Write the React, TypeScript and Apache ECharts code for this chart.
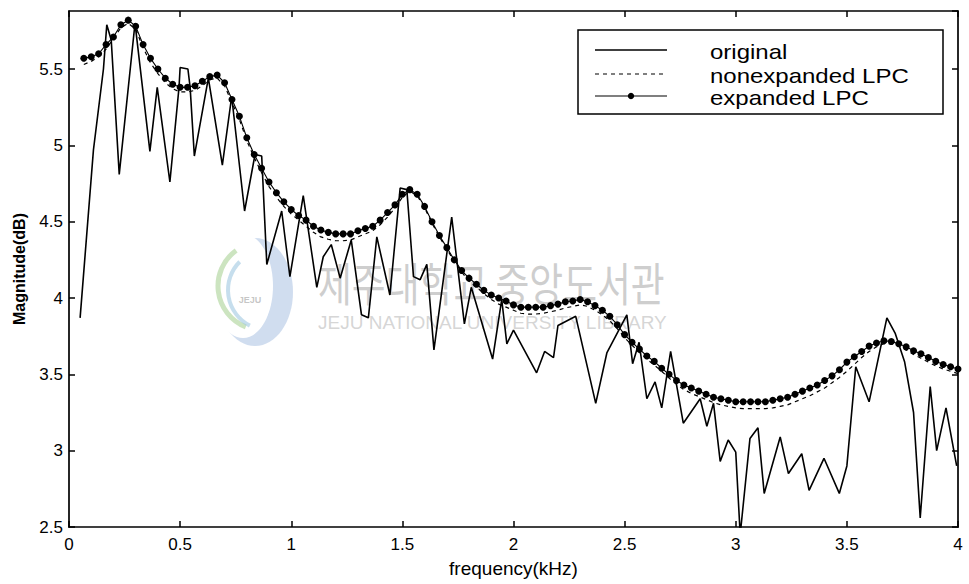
import React, { useEffect, useRef } from "react";
import * as echarts from "echarts";

// Measured spectrum (jagged polyline), frequency in kHz / magnitude in dB
const ORIGINAL_FREQ = [
  0.05, 0.11, 0.155, 0.17, 0.19, 0.226, 0.297, 0.364, 0.397, 0.454, 0.495, 0.5, 0.535, 0.545,
  0.564, 0.627, 0.69, 0.732, 0.79, 0.837, 0.867, 0.89, 0.957, 0.994, 1.054, 1.115, 1.144, 1.18,
  1.22, 1.27, 1.316, 1.347, 1.385, 1.444, 1.49, 1.52, 1.55, 1.58, 1.61, 1.642, 1.722, 1.779,
  1.81, 1.906, 1.947, 1.97, 2.0, 2.104, 2.14, 2.18, 2.2, 2.28, 2.37, 2.42, 2.51, 2.536, 2.565,
  2.6, 2.637, 2.667, 2.707, 2.764, 2.84, 2.87, 2.9, 2.93, 2.966, 3.0, 3.02, 3.064, 3.1, 3.128,
  3.2, 3.237, 3.297, 3.33, 3.397, 3.466, 3.5, 3.54, 3.6, 3.68, 3.717, 3.76, 3.8, 3.83, 3.875,
  3.904, 3.946, 3.994,
];
const ORIGINAL_MAG = [
  3.87, 4.97, 5.5, 5.79, 5.69, 4.81, 5.8, 4.96, 5.38, 4.76, 5.38, 5.51, 5.5, 5.38,
  4.93, 5.44, 4.87, 5.32, 4.57, 4.94, 4.93, 4.22, 4.57, 4.14, 4.67, 4.07, 4.27, 4.35,
  4.13, 4.38, 3.89, 3.87, 4.4, 4.02, 4.72, 4.71, 4.14, 4.12, 4.22, 3.66, 4.53, 3.83,
  4.07, 3.6, 3.99, 3.7, 3.79, 3.51, 3.65, 3.61, 3.82, 3.88, 3.31, 3.64, 3.89, 3.57, 3.71,
  3.34, 3.45, 3.28, 3.65, 3.18, 3.34, 3.16, 3.31, 2.93, 3.07, 2.99, 2.45, 3.08, 3.15, 2.72,
  3.09, 2.85, 2.98, 2.74, 2.95, 2.72, 2.9, 3.55, 3.32, 3.87, 3.77, 3.58, 3.25, 2.56, 3.42,
  3.0, 3.28, 2.9,
];

// LPC envelopes are sampled on a uniform bin grid starting at bin 2
const LPC_FIRST_BIN = 2;
const LPC_BIN_WIDTH_KHZ = 1 / 30;

const EXPANDED_LPC = [
  5.57, 5.58, 5.6, 5.66, 5.71, 5.79, 5.82, 5.78, 5.66, 5.57,
  5.5, 5.44, 5.4, 5.38, 5.38, 5.39, 5.42, 5.45, 5.46, 5.41,
  5.3, 5.19, 5.05, 4.94, 4.85, 4.76, 4.69, 4.63, 4.58, 4.54,
  4.51, 4.47, 4.445, 4.43, 4.42, 4.42, 4.42, 4.44, 4.455, 4.47,
  4.51, 4.56, 4.61, 4.68, 4.71, 4.68, 4.6, 4.5, 4.41, 4.33,
  4.25, 4.18, 4.13, 4.09, 4.05, 4.02, 4.0, 3.98, 3.955, 3.94,
  3.94, 3.94, 3.94, 3.95, 3.96, 3.975, 3.98, 3.99, 3.975, 3.95,
  3.92, 3.88, 3.825, 3.76, 3.71, 3.665, 3.62, 3.585, 3.54, 3.5,
  3.46, 3.43, 3.41, 3.39, 3.37, 3.35, 3.34, 3.33, 3.32, 3.32,
  3.32, 3.32, 3.32, 3.33, 3.34, 3.35, 3.37, 3.39, 3.41, 3.43,
  3.46, 3.49, 3.53, 3.58, 3.615, 3.65, 3.685, 3.705, 3.72, 3.715,
  3.7, 3.68, 3.655, 3.635, 3.61, 3.585, 3.565, 3.55, 3.535,
];

const NONEXPANDED_LPC = [
  5.53, 5.55, 5.58, 5.63, 5.7, 5.77, 5.8, 5.76, 5.64, 5.54,
  5.47, 5.41, 5.37, 5.35, 5.35, 5.36, 5.39, 5.43, 5.44, 5.39,
  5.28, 5.17, 5.03, 4.92, 4.82, 4.73, 4.66, 4.6, 4.55, 4.51,
  4.47, 4.43, 4.4, 4.385, 4.375, 4.375, 4.38, 4.4, 4.42, 4.44,
  4.48, 4.53, 4.59, 4.66, 4.7, 4.67, 4.59, 4.49, 4.4, 4.32,
  4.24, 4.17, 4.11, 4.07, 4.03, 3.99, 3.96, 3.94, 3.92, 3.9,
  3.895, 3.895, 3.9, 3.91, 3.92, 3.935, 3.945, 3.955, 3.945, 3.92,
  3.89, 3.85, 3.8, 3.74, 3.69, 3.645, 3.6, 3.56, 3.52, 3.475,
  3.435, 3.4, 3.375, 3.355, 3.335, 3.315, 3.3, 3.29, 3.28, 3.275,
  3.275, 3.275, 3.275, 3.28, 3.29, 3.3, 3.32, 3.34, 3.36, 3.385,
  3.41, 3.445, 3.48, 3.52, 3.565, 3.61, 3.65, 3.68, 3.7, 3.7,
  3.685, 3.66, 3.63, 3.605, 3.58, 3.555, 3.535, 3.52, 3.505,
];

const LEGEND_LABELS = ["original", "nonexpanded LPC", "expanded LPC"];

const FONT = '"Liberation Sans", Arial, Helvetica, sans-serif';

function lpcPairs(values: number[]) {
  return values.map((v, i) => [(LPC_FIRST_BIN + i) * LPC_BIN_WIDTH_KHZ, v]);
}

export default function App() {
  const ref = useRef<HTMLDivElement>(null);

  useEffect(() => {
    if (!ref.current) return;
    const chart = echarts.init(ref.current, null, { renderer: "svg" });

    const axisLine = { show: true, onZero: false, lineStyle: { color: "#000", width: 1.7 } };
    const axisTick = { show: true, inside: true, length: 6, lineStyle: { color: "#000", width: 1.5 } };
    const tickLabel = { color: "#000", fontSize: 17, fontFamily: FONT };

    const xBase = { type: "value", min: 0, max: 4, interval: 0.5, splitLine: { show: false }, axisLine, axisTick };
    const yBase = { type: "value", min: 2.5, max: 5.88, interval: 0.5, splitLine: { show: false }, axisLine, axisTick };

    const legendX = 578;
    const legendY = 30;
    const rowY = [50, 74, 96];
    const sampleX0 = 595;
    const sampleX1 = 667;
    const textX = 710;

    const legendGraphics: any[] = [
      {
        type: "rect",
        z: 20,
        shape: { x: legendX, y: legendY, width: 365, height: 84 },
        style: { fill: "#fff", stroke: "#000", lineWidth: 1.5 },
      },
      {
        type: "line",
        z: 21,
        shape: { x1: sampleX0, y1: rowY[0], x2: sampleX1, y2: rowY[0] },
        style: { stroke: "#000", lineWidth: 1.4 },
      },
      {
        type: "line",
        z: 21,
        shape: { x1: sampleX0, y1: rowY[1], x2: sampleX1 - 4, y2: rowY[1] },
        style: { stroke: "#000", lineWidth: 1.2, lineDash: [4, 4] },
      },
      {
        type: "line",
        z: 21,
        shape: { x1: sampleX0, y1: rowY[2], x2: sampleX1, y2: rowY[2] },
        style: { stroke: "#000", lineWidth: 1.1 },
      },
      {
        type: "circle",
        z: 22,
        shape: { cx: (sampleX0 + sampleX1) / 2, cy: rowY[2], r: 3.2 },
        style: { fill: "#000" },
      },
      ...LEGEND_LABELS.map((label, i) => ({
        type: "text",
        z: 22,
        x: textX,
        y: rowY[i] + 2,
        scaleX: 1.2,
        style: {
          text: label,
          fill: "#000",
          font: `20px ${FONT}`,
          verticalAlign: "middle",
          align: "left",
        },
      })),
    ];

    // faint library stamp behind the curves
    const stampGraphics: any[] = [
      {
        type: "ellipse",
        z: -5,
        shape: { cx: 255, cy: 292, rx: 38, ry: 54 },
        style: { fill: "rgba(150,180,220,0.45)" },
      },
      {
        type: "ellipse",
        z: -4,
        shape: { cx: 243, cy: 286, rx: 30, ry: 52 },
        style: { fill: "#fff" },
      },
      {
        type: "arc",
        z: -3,
        shape: { cx: 262, cy: 286, r: 44, startAngle: Math.PI * 0.62, endAngle: Math.PI * 1.3 },
        style: { stroke: "rgba(170,210,150,0.6)", lineWidth: 5, fill: "none" },
      },
      {
        type: "arc",
        z: -3,
        shape: { cx: 268, cy: 290, r: 40, startAngle: Math.PI * 0.65, endAngle: Math.PI * 1.25 },
        style: { stroke: "rgba(160,200,225,0.6)", lineWidth: 4, fill: "none" },
      },
      {
        type: "text",
        z: -3,
        x: 250,
        y: 300,
        style: { text: "JEJU", fill: "rgba(160,160,160,0.6)", font: `bold 9px ${FONT}`, align: "center", verticalAlign: "middle" },
      },
      {
        type: "text",
        z: -3,
        x: 318,
        y: 258,
        scaleX: 0.8,
        style: {
          text: "제주대학교 중앙도서관",
          fill: "rgba(185,185,185,0.7)",
          font: '46px "Noto Sans CJK KR", sans-serif',
          verticalAlign: "top",
          align: "left",
        },
      },
      {
        type: "text",
        z: -3,
        x: 318,
        y: 313,
        style: {
          text: "JEJU NATIONAL UNIVERSITY LIBRARY",
          fill: "rgba(190,190,190,0.65)",
          font: `19px ${FONT}`,
          verticalAlign: "top",
          align: "left",
        },
      },
    ];

    chart.setOption({
      animation: false,
      backgroundColor: "#fff",
      grid: { left: 69, right: 11, top: 11, bottom: 57, containLabel: false },
      xAxis: [
        {
          ...xBase,
          position: "bottom",
          axisLabel: { ...tickLabel, margin: 9 },
          name: "frequency(kHz)",
          nameLocation: "middle",
          nameGap: 32,
          nameTextStyle: { color: "#000", fontSize: 19, fontFamily: FONT },
        },
        { ...xBase, position: "top", axisLabel: { show: false } },
      ],
      yAxis: [
        {
          ...yBase,
          position: "left",
          axisLabel: { ...tickLabel, margin: 6, showMaxLabel: false },
          name: "Magnitude(dB)",
          nameLocation: "middle",
          nameRotate: 90,
          nameGap: 42,
          nameTextStyle: { color: "#000", fontSize: 16, fontWeight: "bold", fontFamily: FONT },
        },
        { ...yBase, position: "right", axisLabel: { show: false } },
      ],
      graphic: [...stampGraphics, ...legendGraphics],
      series: [
        {
          name: LEGEND_LABELS[0],
          type: "line",
          xAxisIndex: 0,
          yAxisIndex: 0,
          data: ORIGINAL_FREQ.map((f, i) => [f, ORIGINAL_MAG[i]]),
          symbol: "none",
          clip: true,
          lineStyle: { color: "#000", width: 1.6 },
          z: 3,
        },
        {
          name: LEGEND_LABELS[1],
          type: "line",
          xAxisIndex: 0,
          yAxisIndex: 0,
          data: lpcPairs(NONEXPANDED_LPC),
          symbol: "none",
          lineStyle: { color: "#000", width: 1.2, type: [4, 4] },
          z: 4,
        },
        {
          name: LEGEND_LABELS[2],
          type: "line",
          xAxisIndex: 0,
          yAxisIndex: 0,
          data: lpcPairs(EXPANDED_LPC),
          symbol: "circle",
          symbolSize: 7,
          showAllSymbol: true,
          itemStyle: { color: "#000" },
          lineStyle: { color: "#000", width: 1.1 },
          z: 5,
        },
      ],
    });

    return () => chart.dispose();
  }, []);

  return (
    <div
      ref={ref}
      style={{ position: "fixed", left: 0, top: 0, width: 969, height: 584, background: "#fff" }}
    />
  );
}
